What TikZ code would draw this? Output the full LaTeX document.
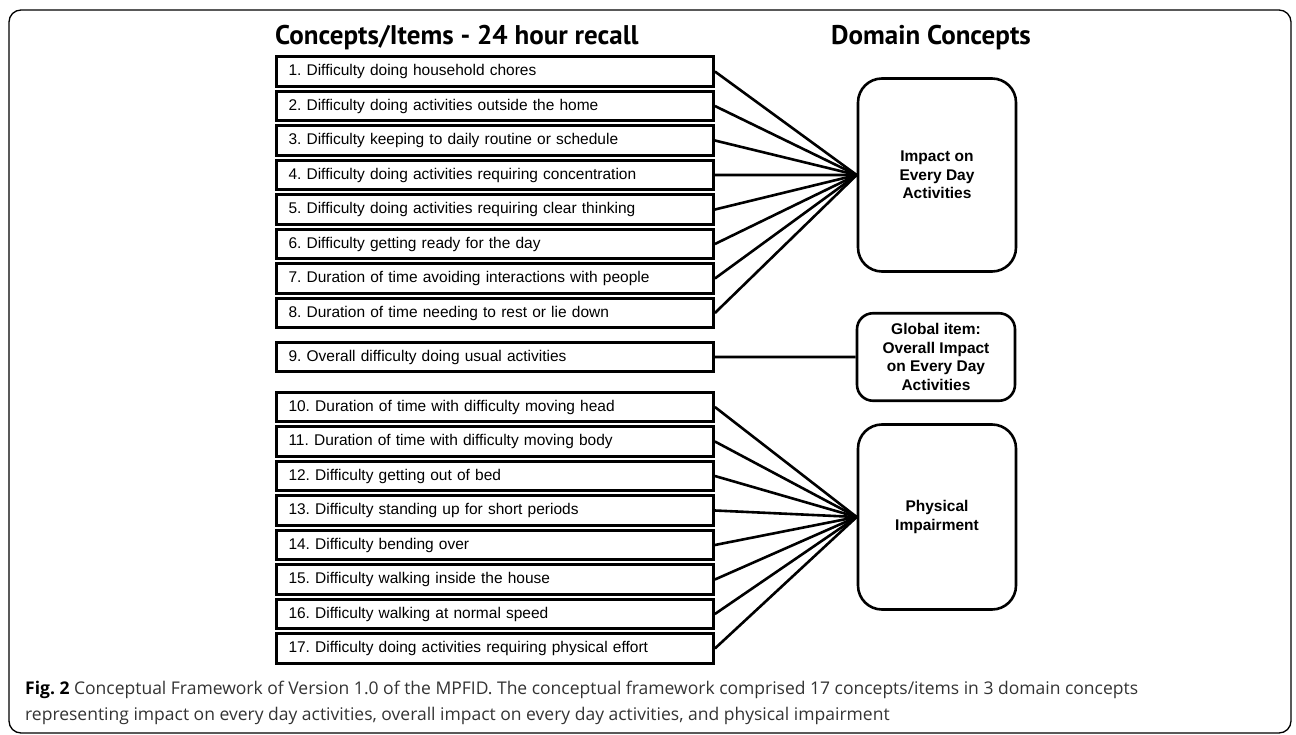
\documentclass[tikz,border=0pt]{standalone}
\usepackage{fontspec}
\setmainfont{Liberation Sans}
\newfontfamily\headfont{PT Sans}
\newfontfamily\capfont{Open Sans}
\usetikzlibrary{positioning}

\begin{document}
\frenchspacing
\begin{tikzpicture}
    [   x = 1pt, y = -1pt
    ,   itembox/.style = {draw, line width = 2.8pt, minimum width = 437pt, minimum height = 29.5pt,
                       text width = 413pt, inner xsep = 12pt, align = left,
                       font = \fontsize{15.5}{18}\selectfont}
    ,   dombox/.style = {draw, line width = 2.6pt, rounded corners = 24pt, minimum width = 158pt,
                         align = center, font = \fontsize{15.5}{18.5}\selectfont\bfseries}
    ,   link/.style = {line width = 2.6pt}
    ,   head/.style = {inner sep = 0pt, font = \headfont\bfseries\fontsize{27}{30}\selectfont}
    ,   captext/.style = {anchor = base west, inner sep = 0pt, text = black!80,
                          font = \capfont\fontsize{17.5}{20}\selectfont}
    ]
    \useasboundingbox (0,0) rectangle (1296,735);
    \draw[line width = 1.3pt, rounded corners = 12pt] (9,10) rectangle (1291,733);

    \node[head, anchor = base west] (hitems) at (275,45) {Concepts/Items - 24 hour recall};
    \node[head, anchor = base] (hdomain) at (931,45) {Domain Concepts};

    % items
    \node[itembox] (i1) at (495,71.5) {1. Difficulty doing household chores};
    \node[itembox, below = 2.2pt of i1] (i2) {2. Difficulty doing activities outside the home};
    \node[itembox, below = 2.2pt of i2] (i3) {3. Difficulty keeping to daily routine or schedule};
    \node[itembox, below = 2.2pt of i3] (i4) {4. Difficulty doing activities requiring concentration};
    \node[itembox, below = 2.2pt of i4] (i5) {5. Difficulty doing activities requiring clear thinking};
    \node[itembox, below = 2.2pt of i5] (i6) {6. Difficulty getting ready for the day};
    \node[itembox, below = 2.2pt of i6] (i7) {7. Duration of time avoiding interactions with people};
    \node[itembox, below = 2.2pt of i7] (i8) {8. Duration of time needing to rest or lie down};
    \node[itembox, below = 11.7pt of i8] (i9) {9. Overall difficulty doing usual activities};
    \node[itembox, below = 17.7pt of i9] (i10) {10. Duration of time with difficulty moving head};
    \node[itembox, below = 2.2pt of i10] (i11) {11. Duration of time with difficulty moving body};
    \node[itembox, below = 2.2pt of i11] (i12) {12. Difficulty getting out of bed};
    \node[itembox, below = 2.2pt of i12] (i13) {13. Difficulty standing up for short periods};
    \node[itembox, below = 2.2pt of i13] (i14) {14. Difficulty bending over};
    \node[itembox, below = 2.2pt of i14] (i15) {15. Difficulty walking inside the house};
    \node[itembox, below = 2.2pt of i15] (i16) {16. Difficulty walking at normal speed};
    \node[itembox, below = 2.2pt of i16] (i17) {17. Difficulty doing activities requiring physical effort};

    % domains
    \node[dombox, minimum height = 193pt] (impact) at (937,175) {Impact on\\Every Day\\Activities};
    \node[dombox, minimum height = 87.5pt, rounded corners = 16pt] (global) at (936,357)
        {Global item:\\Overall Impact\\on Every Day\\Activities};
    \node[dombox, minimum height = 185pt] (physical) at (937,517) {Physical\\Impairment};

    \draw[link] (i1.east) -- (impact.west);
    \draw[link] (i2.east) -- (impact.west);
    \draw[link] (i3.east) -- (impact.west);
    \draw[link] (i4.east) -- (impact.west);
    \draw[link] (i5.east) -- (impact.west);
    \draw[link] (i6.east) -- (impact.west);
    \draw[link] (i7.east) -- (impact.west);
    \draw[link] (i8.east) -- (impact.west);
    \draw[link] (i9.east) -- (global.west);
    \draw[link] (i10.east) -- (physical.west);
    \draw[link] (i11.east) -- (physical.west);
    \draw[link] (i12.east) -- (physical.west);
    \draw[link] (i13.east) -- (physical.west);
    \draw[link] (i14.east) -- (physical.west);
    \draw[link] (i15.east) -- (physical.west);
    \draw[link] (i16.east) -- (physical.west);
    \draw[link] (i17.east) -- (physical.west);

    \node[captext] (cap1) at (25,694) {\textcolor{black}{\bfseries Fig. 2} Conceptual Framework of Version 1.0 of the MPFID. The conceptual framework comprised 17 concepts/items in 3 domain concepts};
    \node[captext] (cap2) at (25,720) {representing impact on every day activities, overall impact on every day activities, and physical impairment};
\end{tikzpicture}
\end{document}
